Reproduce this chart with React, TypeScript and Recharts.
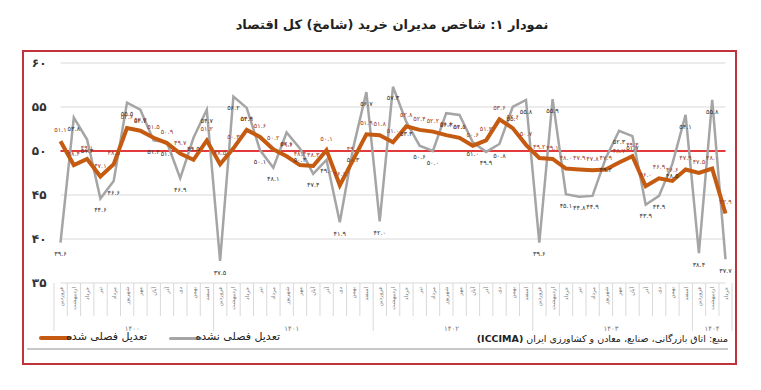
import React from "react"
import { LineChart, Line, XAxis, YAxis, CartesianGrid, ReferenceLine, LabelList } from "recharts"

// سال‌ها و تعداد ماه‌های هر سال در نمودار
const years = ["۱۴۰۰", "۱۴۰۱", "۱۴۰۲", "۱۴۰۳", "۱۴۰۴"]
const monthsPerYear = [12, 12, 12, 12, 3]
const monthNames = ["فروردین", "اردیبهشت", "خرداد", "تیر", "مرداد", "شهریور", "مهر", "آبان", "آذر", "دی", "بهمن", "اسفند"]

// تعدیل فصلی شده
const adjusted = [
    51.1, 48.4, 49.1, 47.1, 48.5, 52.6, 52.3, 51.5, 50.9, 49.7, 49.0, 51.2,
    48.5, 50.3, 52.4, 51.6, 50.2, 49.4, 48.4, 48.3, 50.1, 46.1, 49.0, 51.9,
    51.8, 51.0, 52.8, 52.4, 52.2, 51.8, 51.5, 50.6, 51.2, 53.6, 52.6, 50.7,
    49.2, 49.1, 48.0, 47.9, 47.8, 47.9, 48.7, 49.4, 46.0, 46.9, 46.6, 47.9,
    47.5, 48.0, 42.9,
]

// تعدیل فصلی نشده
const unadjusted = [
    39.6, 53.8, 51.3, 44.6, 46.6, 55.5, 54.7, 51.2, 51.0, 46.9, 51.5, 54.7,
    37.5, 56.2, 54.9, 50.1, 48.1, 52.1, 50.3, 47.4, 49.0, 41.9, 50.3, 56.7,
    42.0, 57.3, 53.3, 50.6, 50.0, 54.3, 54.1, 51.0, 49.9, 50.8, 55.0, 55.8,
    39.6, 55.9, 45.1, 44.8, 44.9, 49.2, 52.3, 51.7, 43.9, 44.9, 48.5, 54.1,
    38.4, 55.8, 37.7,
]

const yTicks = [35, 40, 45, 50, 55, 60]

const fa = (s: string | number) => String(s).replace(/[0-9]/g, (d) => "۰۱۲۳۴۵۶۷۸۹"[+d])

const data: any[] = []
years.forEach((yr, yi) => {
    for (let m = 0; m < monthsPerYear[yi]; m++) {
        const i = data.length
        data.push({
            key: `${yr}-${m}`,
            month: monthNames[m],
            year: yr,
            first: m === 0,
            count: monthsPerYear[yi],
            adjusted: adjusted[i],
            unadjusted: unadjusted[i],
        })
    }
})

const W = 761
const H = 390
const M = { top: 63, right: 35.5, bottom: 47, left: 20 }
const Y_WIDTH = 40.5
const STEP = (W - M.left - Y_WIDTH - M.right) / data.length
const FONT = "'DejaVu Sans', sans-serif"
const ORANGE = "#c55a11"
const GRAY = "#a5a5a5"

function MonthTick(props: any) {
    const { x, y, index } = props
    const d = data[index]
    if (!d) return null
    const left = x - STEP / 2
    const last = index === data.length - 1
    return (
        <g>
            <line x1={left} x2={left} y1={y} y2={y + (d.first ? 48 : 33)} stroke="#d9d9d9" />
            {last && <line x1={x + STEP / 2} x2={x + STEP / 2} y1={y} y2={y + 48} stroke="#d9d9d9" />}
            <text
                transform={`translate(${x + 2}, ${y + 4}) rotate(-90)`}
                textAnchor="end"
                fontSize={5.5}
                fill="#777"
                fontFamily={FONT}
            >
                {d.month}
            </text>
            {d.first && (
                <text x={left + (d.count * STEP) / 2} y={y + 48} textAnchor="middle" fontSize={7} fill="#777" fontFamily={FONT}>
                    {d.year}
                </text>
            )}
        </g>
    )
}

export default function App() {
    return (
        <div style={{ position: "absolute", left: 0, top: 0, width: W, height: H, background: "#fff", fontFamily: FONT }}>
            <LineChart width={W} height={H} data={data} margin={M}>
                <CartesianGrid vertical={false} stroke="#d9d9d9" />
                <XAxis
                    dataKey="key"
                    interval={0}
                    axisLine={false}
                    tickLine={false}
                    tickSize={0}
                    tickMargin={0}
                    height={60}
                    tick={<MonthTick />}
                />
                <YAxis
                    domain={[35, 60]}
                    ticks={yTicks}
                    width={Y_WIDTH}
                    axisLine={false}
                    tickLine={false}
                    tickSize={0}
                    tickMargin={14}
                    tickFormatter={(v: number) => fa(v)}
                    tick={{ fontSize: 12, fontWeight: "bold", fill: "#333", fontFamily: FONT }}
                />
                <ReferenceLine y={50} stroke="#e00000" strokeWidth={1.5} />
                <Line
                    type="linear"
                    dataKey="unadjusted"
                    stroke={GRAY}
                    strokeWidth={2.5}
                    dot={false}
                    isAnimationActive={false}
                >
                    <LabelList
                        dataKey="unadjusted"
                        position="bottom"
                        offset={9}
                        formatter={(v: any) => fa(Number(v).toFixed(1))}
                        style={{ fontSize: 6.5, fill: "#333", fontFamily: FONT }}
                    />
                </Line>
                <Line
                    type="linear"
                    dataKey="adjusted"
                    stroke={ORANGE}
                    strokeWidth={4}
                    dot={false}
                    isAnimationActive={false}
                >
                    <LabelList
                        dataKey="adjusted"
                        position="top"
                        offset={9}
                        formatter={(v: any) => fa(Number(v).toFixed(1))}
                        style={{ fontSize: 6.5, fill: "#a0402a", fontFamily: FONT }}
                    />
                </Line>
            </LineChart>

            <div
                dir="rtl"
                style={{ position: "absolute", left: 0, top: 17, width: 784, textAlign: "center", fontSize: 13, fontWeight: "bold", color: "#222" }}
            >
                نمودار ۱: شاخص مدیران خرید (شامخ) کل اقتصاد
            </div>

            <div style={{ position: "absolute", left: 22, top: 50, width: 711, height: 311, border: "2px solid #c0333a" }} />

            <div style={{ position: "absolute", left: 39, top: 336, width: 33, height: 4, borderRadius: 2, background: ORANGE }} />
            <div dir="rtl" style={{ position: "absolute", right: W - 147, top: 330, fontSize: 11, color: "#222", whiteSpace: "nowrap" }}>
                تعدیل فصلی شده
            </div>
            <div style={{ position: "absolute", left: 169, top: 337, width: 33, height: 3, borderRadius: 2, background: GRAY }} />
            <div dir="rtl" style={{ position: "absolute", right: W - 280, top: 330, fontSize: 11, color: "#222", whiteSpace: "nowrap" }}>
                تعدیل فصلی نشده
            </div>
            <div dir="rtl" style={{ position: "absolute", right: W - 728, top: 333, fontSize: 9.5, color: "#222", whiteSpace: "nowrap" }}>
                منبع: اتاق بازرگانی، صنایع، معادن و کشاورزی ایران <b>(ICCIMA)</b>
            </div>
            <div style={{ position: "absolute", left: 27, top: 348, width: 701, height: 2, background: "#c8c8c8" }} />
        </div>
    )
}
